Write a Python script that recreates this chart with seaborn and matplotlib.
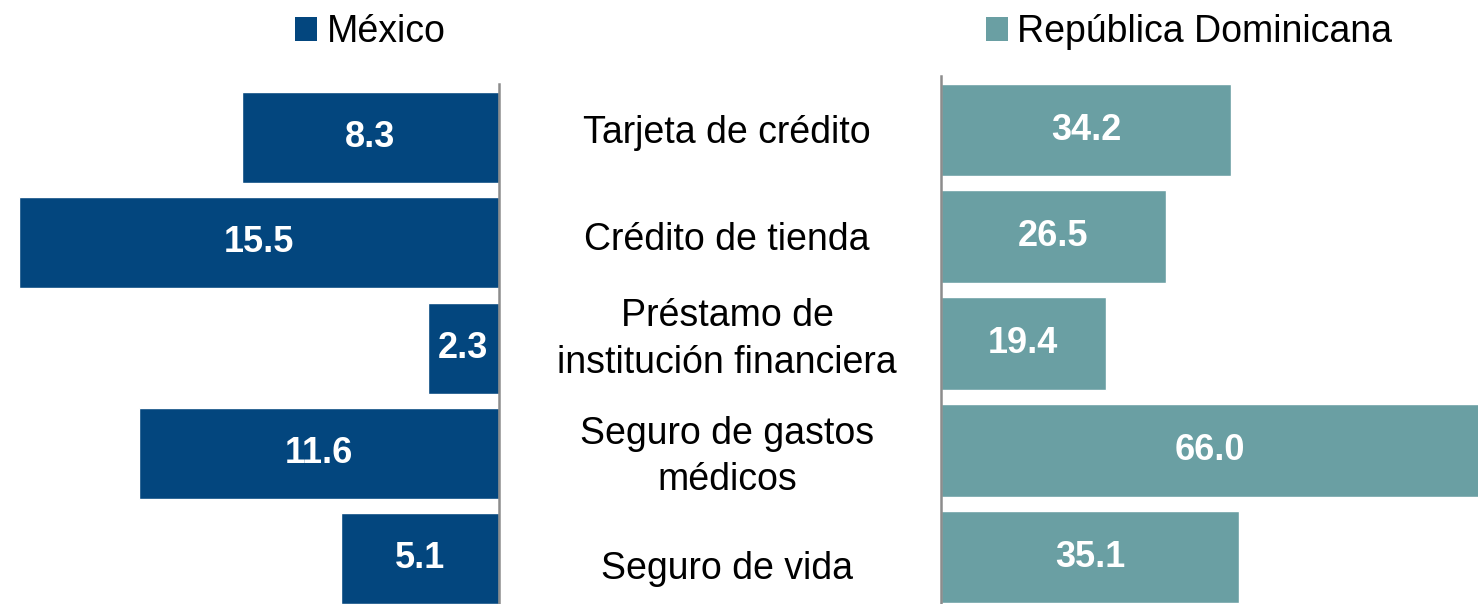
import matplotlib
matplotlib.use("Agg")
import matplotlib.pyplot as plt
import matplotlib.transforms as mtransforms
from matplotlib.patches import Patch
import seaborn as sns

# data
categorias = ["Tarjeta de crédito", "Crédito de tienda",
              "Préstamo de\ninstitución financiera",
              "Seguro de gastos\nmédicos", "Seguro de vida"]
mexico = [8.3, 15.5, 2.3, 11.6, 5.1]
rep_dom = [34.2, 26.5, 19.4, 66.0, 35.1]
series = ["México", "República Dominicana"]

azul = "#03467e"
verde = "#6a9fa3"
gris = "#8c8c8c"

sns.set_theme(style="white")
plt.rcParams["font.family"] = ["Liberation Sans", "DejaVu Sans"]
plt.rcParams["text.color"] = "black"

W, H = 1478, 604
fig = plt.figure(figsize=(W / 100, H / 100), dpi=100)

# pixel boxes -> figure fractions
ax_l = fig.add_axes([0 / W, 0, 499 / W, 520 / H])
ax_r = fig.add_axes([941 / W, 0, 537 / W, 528 / H])

sns.barplot(x=mexico, y=categorias, ax=ax_l, color=azul, width=0.865,
            saturation=1, orient="h")
sns.barplot(x=rep_dom, y=categorias, ax=ax_r, color=verde, width=0.87,
            saturation=1, orient="h")

ax_l.set_xlim(16.1, 0)
ax_l.set_ylim(4.43, -0.508)
ax_r.set_xlim(0, 63.3)
ax_r.set_ylim(4.44, -0.506)

for ax, side in [(ax_l, "right"), (ax_r, "left")]:
    for s in ax.spines:
        ax.spines[s].set_visible(s == side)
    ax.spines[side].set_color(gris)
    ax.spines[side].set_linewidth(1.8)
    ax.set_xticks([])
    ax.set_yticks([])
    ax.set_xlabel("")
    ax.set_ylabel("")
    ax.patch.set_alpha(0)

for ax, vals in [(ax_l, mexico), (ax_r, rep_dom)]:
    ax.bar_label(ax.containers[0], labels=[f"{v:.1f}" for v in vals],
                 label_type="center", color="white", fontsize=26,
                 fontweight="bold")

# category names in the middle (small pixel nudges to match the layout)
nudge = [-3, -3, 4, -7, -12]
trans = mtransforms.blended_transform_factory(fig.transFigure, ax_r.transData)
for i, cat in enumerate(categorias):
    off = mtransforms.offset_copy(trans, fig=fig, y=nudge[i], units="dots")
    fig.text(0.492, i, cat, transform=off, ha="center", va="center",
             fontsize=27, color="black", linespacing=1.37)

# legends
for name, col, xc in [(series[0], azul, 0.2503), (series[1], verde, 0.8045)]:
    leg = fig.legend(handles=[Patch(facecolor=col, edgecolor="none", label=name)],
                     loc="center", bbox_to_anchor=(xc, 0.947), frameon=False,
                     fontsize=27, handlelength=0.6, handleheight=0.6,
                     handletextpad=0.25, borderpad=0, borderaxespad=0)
    for t in leg.get_texts():
        t.set_color("black")

fig.savefig("out.png", dpi=100)
